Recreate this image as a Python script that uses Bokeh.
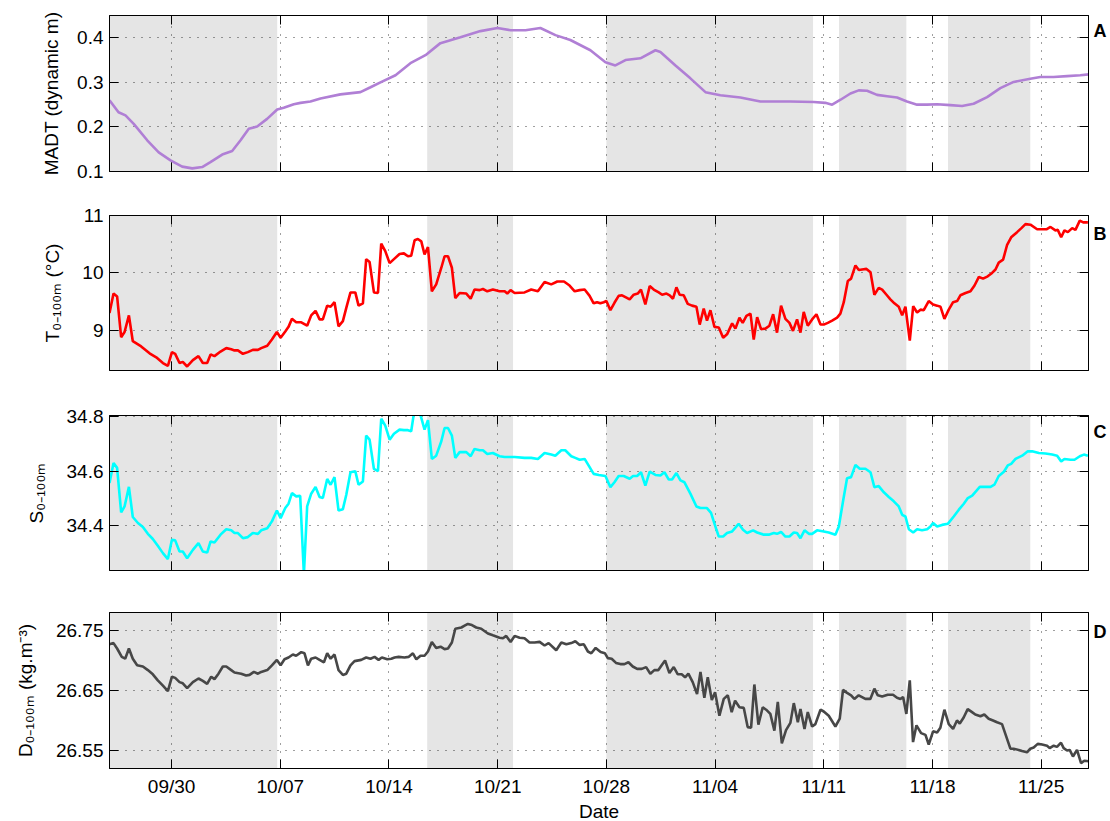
import numpy as np
import pandas as pd
from bokeh.plotting import figure
from bokeh.layouts import column
from bokeh.models import (Range1d, FixedTicker, LinearAxis, DatetimeAxis, BoxAnnotation,
                          CustomJSTickFormatter)
from bokeh.embed import file_html
from bokeh.resources import INLINE

# ---------------- data ----------------
START = pd.Timestamp("2012-09-26")
x_end_days = 63.05

tick_dates = ["2012-09-30", "2012-10-07", "2012-10-14", "2012-10-21", "2012-10-28",
              "2012-11-04", "2012-11-11", "2012-11-18", "2012-11-25"]
tick_labels = ["09/30", "10/07", "10/14", "10/21", "10/28", "11/04", "11/11", "11/18", "11/25"]

panel_letters = ["A", "B", "C", "D"]
panel_titles = ["MADT (dynamic m)", "T₀₋₁₀₀ₘ (°C)", "S₀₋₁₀₀ₘ", "D₀₋₁₀₀ₘ (kg.m⁻³)"]

# shaded periods (days since START)
band_start_days = [0.0, 20.46, 32.0, 46.98, 54.0]
band_end_days = [10.80, 25.99, 45.31, 51.32, 59.3]

# Panel A: MADT (dynamic m)
madt_days = [0.00, 0.58, 1.03, 1.56, 2.43, 3.17, 3.93, 4.68, 5.33, 5.97,
             6.50, 7.26, 7.90, 8.44, 8.97, 9.51, 10.15, 10.80, 11.22, 11.87,
             12.30, 12.94, 13.59, 14.87, 16.16, 16.81, 17.45, 18.42, 19.38, 20.35,
             21.31, 22.60, 23.89, 24.98, 25.82, 26.79, 27.75, 28.72, 29.68, 30.97,
             31.94, 32.58, 33.23, 34.19, 35.16, 35.48, 36.45, 37.41, 38.38, 39.34,
             40.63, 41.92, 43.85, 45.35, 46.10, 46.54, 47.08, 47.72, 48.25, 48.79,
             49.43, 50.08, 50.72, 51.36, 52.01, 52.65, 53.30, 54.15, 54.91, 55.65,
             56.52, 57.37, 58.23, 59.30, 59.95, 60.80, 61.67, 62.52, 63.06]
madt_vals = [0.260, 0.233, 0.226, 0.207, 0.170, 0.143, 0.125, 0.111, 0.107, 0.110,
             0.121, 0.138, 0.146, 0.170, 0.196, 0.201, 0.218, 0.239, 0.243, 0.251,
             0.254, 0.257, 0.264, 0.273, 0.278, 0.289, 0.300, 0.316, 0.343, 0.361,
             0.388, 0.401, 0.415, 0.422, 0.417, 0.417, 0.422, 0.406, 0.395, 0.372,
             0.345, 0.338, 0.350, 0.354, 0.372, 0.368, 0.338, 0.309, 0.278, 0.271,
             0.266, 0.257, 0.257, 0.256, 0.254, 0.250, 0.261, 0.275, 0.282, 0.281,
             0.272, 0.269, 0.266, 0.257, 0.250, 0.250, 0.251, 0.249, 0.247, 0.252,
             0.267, 0.287, 0.301, 0.308, 0.312, 0.312, 0.314, 0.316, 0.318]

# Panel B: temperature 0-100 m (degC)
temp_days = [0.00, 0.26, 0.49, 0.75, 0.97, 1.25, 1.50, 2.04, 2.58, 3.01,
             3.44, 3.76, 4.02, 4.23, 4.51, 4.72, 5.00, 5.37, 5.73, 6.01,
             6.29, 6.51, 6.76, 7.15, 7.52, 7.84, 8.05, 8.27, 8.59, 8.91,
             9.23, 9.56, 9.77, 10.16, 10.46, 10.78, 11.02, 11.32, 11.53, 11.75,
             12.02, 12.35, 12.73, 12.99, 13.27, 13.53, 13.74, 14.02, 14.24, 14.49,
             14.75, 15.03, 15.25, 15.52, 15.83, 16.04, 16.32, 16.53, 16.75, 17.03,
             17.29, 17.50, 17.76, 18.04, 18.32, 18.68, 18.96, 19.22, 19.43, 19.65,
             19.86, 20.08, 20.29, 20.51, 20.76, 21.04, 21.37, 21.58, 21.80, 22.05,
             22.27, 22.55, 22.98, 23.26, 23.51, 23.84, 24.05, 24.33, 24.69, 25.12,
             25.45, 25.62, 25.83, 26.09, 26.73, 27.16, 27.59, 28.02, 28.45, 28.84,
             29.27, 29.63, 29.96, 30.28, 30.60, 30.92,
             31.18, 31.40, 31.61, 31.83, 32.00, 32.26, 32.52, 32.79, 33.01, 33.29,
             33.50, 33.76, 34.02, 34.23, 34.51, 34.79, 35.05, 35.37, 35.59, 35.87,
             36.08, 36.29, 36.51, 36.72, 36.98, 37.24, 37.52, 37.80, 38.01, 38.27,
             38.48, 38.70, 38.96, 39.24, 39.52, 39.77, 40.10, 40.31, 40.57, 40.78,
             41.02, 41.28, 41.49, 41.71, 41.96, 42.24, 42.50, 42.74, 42.99, 43.25,
             43.53, 43.79, 44.02, 44.28, 44.50, 44.71, 44.97, 45.25, 45.53, 45.79,
             46.00, 46.26, 46.54, 46.86, 47.07, 47.29, 47.55, 47.76, 48.04, 48.26,
             48.47, 48.75, 49.01, 49.26, 49.54, 49.76, 50.04, 50.29, 50.55, 50.83,
             51.05, 51.26, 51.54, 51.76, 52.01, 52.23, 52.44, 52.76, 53.04, 53.30,
             53.52, 53.77, 54.05, 54.33, 54.59, 54.80, 55.13, 55.45, 55.71, 55.99,
             56.26, 56.56, 56.84, 57.06, 57.27, 57.55, 57.81, 58.07, 58.45, 58.73,
             58.99, 59.31, 59.74, 60.07, 60.34, 60.60, 60.92, 61.07, 61.29, 61.50,
             61.72, 62.00, 62.21, 62.49, 62.71, 63.01]
temp_vals = [9.30, 9.64, 9.59, 8.88, 8.97, 9.26, 8.81, 8.72, 8.60, 8.53,
             8.43, 8.38, 8.62, 8.59, 8.43, 8.45, 8.37, 8.48, 8.55, 8.43,
             8.43, 8.58, 8.55, 8.63, 8.69, 8.67, 8.65, 8.65, 8.59, 8.62,
             8.66, 8.66, 8.69, 8.73, 8.84, 8.97, 8.87, 8.98, 9.06, 9.20,
             9.14, 9.14, 9.08, 9.26, 9.34, 9.19, 9.19, 9.43, 9.41, 9.49,
             9.07, 9.16, 9.39, 9.66, 9.66, 9.43, 9.47, 10.24, 10.19, 9.66,
             9.65, 10.51, 10.38, 10.17, 10.24, 10.33, 10.34, 10.29, 10.30, 10.57,
             10.59, 10.55, 10.32, 10.45, 9.68, 9.80, 10.09, 10.29, 10.29, 10.09,
             9.56, 9.65, 9.64, 9.55, 9.71, 9.70, 9.72, 9.68, 9.71, 9.68,
             9.68, 9.64, 9.70, 9.65, 9.66, 9.71, 9.68, 9.84, 9.80, 9.85,
             9.85, 9.78, 9.68, 9.70, 9.71, 9.60,
             9.47, 9.49, 9.47, 9.49, 9.51, 9.35, 9.48, 9.60, 9.61, 9.57,
             9.54, 9.62, 9.64, 9.71, 9.45, 9.77, 9.71, 9.66, 9.62, 9.64,
             9.61, 9.55, 9.75, 9.62, 9.61, 9.46, 9.43, 9.41, 9.10, 9.38,
             9.17, 9.35, 9.06, 9.05, 8.87, 8.93, 9.12, 9.03, 9.22, 9.13,
             9.25, 9.29, 8.84, 9.23, 9.02, 9.03, 9.08, 9.28, 8.96, 9.43,
             9.20, 9.13, 8.99, 9.19, 8.96, 9.32, 9.08, 9.19, 9.28, 9.10,
             9.10, 9.13, 9.17, 9.22, 9.29, 9.49, 9.86, 9.90, 10.13, 10.05,
             10.06, 10.07, 10.01, 9.62, 9.74, 9.71, 9.62, 9.54, 9.47, 9.41,
             9.26, 9.41, 8.82, 9.42, 9.31, 9.36, 9.35, 9.51, 9.45, 9.43,
             9.41, 9.20, 9.36, 9.49, 9.51, 9.61, 9.65, 9.68, 9.78, 9.93,
             9.90, 9.94, 10.00, 10.06, 10.18, 10.23, 10.49, 10.62, 10.71, 10.78,
             10.85, 10.84, 10.76, 10.76, 10.76, 10.80, 10.74, 10.75, 10.62, 10.74,
             10.71, 10.78, 10.75, 10.91, 10.88, 10.88]

# Panel C: salinity 0-100 m
sal_days = [0.00, 0.26, 0.49, 0.75, 0.97, 1.25, 1.50, 1.83, 2.15, 2.47,
            2.79, 3.11, 3.44, 3.76, 4.02, 4.23, 4.51, 4.72, 5.00, 5.37,
            5.73, 6.01, 6.29, 6.51, 6.76, 7.15, 7.52, 7.84, 8.05, 8.27,
            8.59, 8.91, 9.23, 9.56, 9.77, 10.16, 10.46, 10.78, 11.02, 11.32,
            11.53, 11.75, 12.02, 12.28, 12.52, 12.73, 12.99, 13.27, 13.53, 13.74,
            14.02, 14.24, 14.49, 14.75, 15.03, 15.25, 15.52, 15.83, 16.04, 16.32,
            16.53, 16.75, 17.03, 17.29, 17.50, 17.76, 18.04, 18.32, 18.68, 18.96,
            19.22, 19.43, 19.65, 19.91, 20.08, 20.29, 20.51, 20.76, 21.04, 21.37,
            21.58, 21.80, 22.05, 22.27, 22.55, 22.98, 23.26, 23.51, 23.84, 24.05,
            24.33, 24.69, 25.12, 25.45, 26.09, 26.73, 27.16, 27.59, 28.02, 28.45,
            28.71, 29.10, 29.35, 29.74, 30.00, 30.28, 30.60, 30.92,
            31.18, 31.51, 31.94, 32.26, 32.52, 32.79, 33.12, 33.50, 33.72, 33.98,
            34.23, 34.51, 34.79, 35.16, 35.48, 35.74, 36.02, 36.23, 36.51, 36.77,
            37.03, 37.41, 37.80, 38.06, 38.48, 38.74, 39.09, 39.24, 39.52, 39.77,
            40.10, 40.52, 40.80, 41.06, 41.45, 41.71, 42.14, 42.46, 42.78, 42.99,
            43.25, 43.53, 43.79, 44.07, 44.28, 44.50, 44.76, 45.04, 45.25, 45.57,
            46.00, 46.32, 46.75, 46.97, 47.25, 47.50, 47.76, 48.04, 48.32, 48.68,
            49.01, 49.26, 49.54, 49.87, 50.19, 50.51, 50.83, 51.05, 51.26, 51.48,
            51.76, 52.01, 52.33, 52.66, 52.87, 53.04, 53.30, 53.62, 53.99, 54.37,
            54.70, 55.02, 55.28, 55.56, 56.05, 56.31, 56.74, 56.99, 57.27, 57.60,
            57.85, 58.07, 58.35, 58.78, 59.14, 59.42, 59.85, 60.28, 60.71, 61.03,
            61.29, 61.50, 61.89, 62.15, 62.49, 62.75, 63.01]
sal_vals = [34.556, 34.630, 34.612, 34.448, 34.470, 34.542, 34.431, 34.409, 34.394, 34.369,
            34.350, 34.325, 34.298, 34.276, 34.347, 34.345, 34.304, 34.304, 34.279, 34.310,
            34.335, 34.304, 34.300, 34.341, 34.337, 34.366, 34.386, 34.382, 34.372, 34.372,
            34.353, 34.357, 34.372, 34.369, 34.382, 34.390, 34.415, 34.455, 34.427, 34.464,
            34.480, 34.519, 34.507, 34.509, 34.220, 34.470, 34.517, 34.542, 34.505, 34.501,
            34.571, 34.550, 34.578, 34.455, 34.460, 34.513, 34.596, 34.600, 34.550, 34.562,
            34.731, 34.716, 34.608, 34.600, 34.793, 34.768, 34.716, 34.738, 34.753, 34.751,
            34.751, 34.747, 34.830, 34.830, 34.796, 34.753, 34.788, 34.645, 34.657, 34.710,
            34.759, 34.759, 34.731, 34.649, 34.670, 34.670, 34.655, 34.682, 34.677, 34.677,
            34.663, 34.667, 34.655, 34.652, 34.652, 34.649, 34.649, 34.645, 34.667, 34.661,
            34.657, 34.677, 34.677, 34.655, 34.649, 34.642, 34.645, 34.615,
            34.590, 34.586, 34.582, 34.541, 34.559, 34.582, 34.582, 34.572, 34.582, 34.582,
            34.596, 34.547, 34.598, 34.586, 34.584, 34.596, 34.569, 34.569, 34.593, 34.566,
            34.559, 34.517, 34.470, 34.464, 34.464, 34.446, 34.384, 34.359, 34.359, 34.372,
            34.378, 34.406, 34.384, 34.372, 34.382, 34.374, 34.366, 34.366, 34.372, 34.369,
            34.376, 34.359, 34.359, 34.374, 34.372, 34.353, 34.382, 34.369, 34.369, 34.382,
            34.378, 34.374, 34.366, 34.396, 34.492, 34.574, 34.578, 34.623, 34.609, 34.609,
            34.596, 34.541, 34.545, 34.522, 34.505, 34.489, 34.470, 34.439, 34.433, 34.386,
            34.374, 34.386, 34.382, 34.386, 34.396, 34.409, 34.396, 34.402, 34.406, 34.433,
            34.458, 34.480, 34.501, 34.510, 34.542, 34.542, 34.542, 34.550, 34.582, 34.598,
            34.621, 34.627, 34.645, 34.657, 34.673, 34.673, 34.667, 34.665, 34.661, 34.657,
            34.636, 34.645, 34.642, 34.642, 34.655, 34.661, 34.657]

# Panel D: density 0-100 m (kg m-3)
dens_days = [0.00, 0.26, 0.49, 0.79, 1.01, 1.25, 1.50, 1.78, 2.15, 2.47,
             2.79, 3.11, 3.44, 3.76, 4.02, 4.23, 4.51, 4.72, 5.00, 5.37,
             5.73, 6.01, 6.29, 6.55, 6.76, 7.02, 7.30, 7.52, 7.84, 8.05,
             8.48, 8.80, 9.02, 9.30, 9.56, 9.77, 10.16, 10.46, 10.78, 11.02,
             11.27, 11.53, 11.81, 12.02, 12.35, 12.56, 12.78, 12.99, 13.27, 13.53,
             13.81, 14.02, 14.24, 14.49, 14.75, 15.03, 15.25, 15.52, 15.78, 16.21,
             16.53, 16.81, 17.07, 17.33, 17.54, 17.89, 18.15, 18.36, 18.62, 19.00,
             19.26, 19.54, 19.76, 20.03, 20.29, 20.51, 20.76, 21.04, 21.32, 21.58,
             21.80, 22.05, 22.27, 22.66, 22.87, 23.08, 23.34, 23.62, 23.94, 24.37,
             24.69, 25.12, 25.34, 25.55, 25.83, 26.09, 26.41, 26.73, 27.05, 27.38,
             27.70, 28.02, 28.28, 28.77, 29.10, 29.42, 29.74, 30.00, 30.28, 30.55,
             30.81, 31.03, 31.31, 31.63,
             31.91, 32.09, 32.34, 32.62, 32.90, 33.16, 33.42, 33.70, 33.98, 34.28,
             34.56, 34.83, 35.09, 35.35, 35.56, 35.78, 36.06, 36.34, 36.60, 36.85,
             37.07, 37.28, 37.56, 37.84, 38.06, 38.31, 38.53, 38.79, 39.00, 39.28,
             39.56, 39.82, 40.07, 40.29, 40.57, 40.85, 41.10, 41.32, 41.53, 41.79,
             42.07, 42.29, 42.56, 42.82, 43.04, 43.30, 43.57, 43.85, 44.07, 44.33,
             44.50, 44.76, 44.97, 45.25, 45.46, 45.79, 46.00, 46.32, 46.75, 47.03,
             47.24, 47.50, 47.76, 47.97, 48.25, 48.68, 49.00, 49.26, 49.48, 49.76,
             50.12, 50.46, 50.72, 50.94, 51.11, 51.32, 51.54, 51.75, 51.97, 52.27,
             52.55, 52.76, 53.04, 53.30, 53.51, 53.77, 54.05, 54.33, 54.58, 54.76,
             55.01, 55.27, 55.55, 55.76, 56.09, 56.34, 56.62, 56.90, 57.16, 57.48,
             58.02, 58.23, 58.55, 58.77, 59.09, 59.30, 59.52, 59.78, 60.06, 60.38,
             60.55, 60.81, 61.02, 61.28, 61.45, 61.67, 61.84, 62.05, 62.31, 62.57,
             62.78, 63.06]
dens_vals = [26.727, 26.729, 26.720, 26.706, 26.703, 26.720, 26.703, 26.692, 26.690, 26.684,
             26.677, 26.667, 26.658, 26.649, 26.673, 26.671, 26.664, 26.662, 26.654, 26.664,
             26.670, 26.666, 26.661, 26.673, 26.669, 26.678, 26.690, 26.690, 26.684, 26.680,
             26.678, 26.675, 26.676, 26.681, 26.678, 26.681, 26.684, 26.692, 26.701, 26.692,
             26.702, 26.705, 26.710, 26.708, 26.714, 26.712, 26.692, 26.703, 26.705, 26.701,
             26.697, 26.712, 26.703, 26.710, 26.684, 26.676, 26.678, 26.692, 26.699, 26.701,
             26.705, 26.703, 26.706, 26.701, 26.705, 26.702, 26.703, 26.705, 26.706, 26.705,
             26.706, 26.712, 26.702, 26.708, 26.708, 26.715, 26.731, 26.721, 26.723, 26.719,
             26.720, 26.730, 26.753, 26.755, 26.758, 26.761, 26.759, 26.755, 26.753, 26.745,
             26.742, 26.738, 26.737, 26.741, 26.731, 26.741, 26.738, 26.737, 26.730, 26.730,
             26.731, 26.725, 26.729, 26.717, 26.730, 26.727, 26.729, 26.732, 26.726, 26.727,
             26.715, 26.712, 26.721, 26.714,
             26.712, 26.704, 26.703, 26.696, 26.694, 26.694, 26.697, 26.690, 26.686, 26.686,
             26.689, 26.678, 26.684, 26.684, 26.692, 26.700, 26.679, 26.689, 26.677, 26.677,
             26.672, 26.678, 26.664, 26.644, 26.681, 26.638, 26.672, 26.634, 26.647, 26.608,
             26.636, 26.642, 26.614, 26.633, 26.622, 26.621, 26.589, 26.588, 26.660, 26.593,
             26.622, 26.618, 26.611, 26.583, 26.631, 26.562, 26.584, 26.596, 26.629, 26.597,
             26.619, 26.586, 26.614, 26.590, 26.594, 26.618, 26.615, 26.608, 26.590, 26.603,
             26.651, 26.646, 26.642, 26.636, 26.642, 26.636, 26.636, 26.653, 26.642, 26.640,
             26.643, 26.643, 26.638, 26.636, 26.639, 26.611, 26.667, 26.564, 26.592, 26.579,
             26.576, 26.560, 26.582, 26.580, 26.588, 26.618, 26.594, 26.586, 26.600, 26.595,
             26.605, 26.619, 26.614, 26.610, 26.607, 26.610, 26.603, 26.600, 26.597, 26.594,
             26.553, 26.553, 26.551, 26.549, 26.547, 26.553, 26.555, 26.561, 26.560, 26.558,
             26.554, 26.558, 26.556, 26.563, 26.554, 26.550, 26.551, 26.540, 26.551, 26.529,
             26.533, 26.532]

# ---------------- helpers ----------------
FONT = "Liberation Sans"
FS = "19px"
EPOCH = pd.Timestamp("1970-01-01")


def to_dt(days):
    return START + pd.to_timedelta(np.asarray(days, dtype=float), unit="D")


def ms(ts):
    return (pd.Timestamp(ts) - EPOCH).total_seconds() * 1000.0


tick_ms = [ms(d) for d in tick_dates]
x_range = Range1d(START, START + pd.Timedelta(days=x_end_days))
FRAME_W = 979

label_js = "const labs = %s; return labs[index];" % str(tick_labels)


def ticks_only(ax, ticks):
    """axis that only draws inward tick marks (as minor ticks), no labels"""
    ax.ticker = FixedTicker(ticks=[], minor_ticks=ticks)
    ax.major_tick_line_color = None
    ax.major_tick_in = 0
    ax.major_tick_out = 0
    ax.minor_tick_in = 9
    ax.minor_tick_out = 0
    ax.minor_tick_line_color = "black"
    ax.minor_tick_line_width = 1
    ax.axis_line_color = "black"
    ax.major_label_standoff = 0


def make_panel(ylo, yhi, yticks, frame_h, top, bottom, show_x, letter, letter_v,
               ytitle, title_standoff):
    p = figure(x_axis_type="datetime", frame_width=FRAME_W, frame_height=frame_h,
               x_range=x_range, y_range=Range1d(ylo, yhi),
               output_backend="svg", toolbar_location=None,
               min_border_left=109, min_border_right=10,
               min_border_top=top, min_border_bottom=bottom)
    p.outline_line_color = "black"
    p.outline_line_alpha = 1.0

    # left axis with labels
    ya = p.yaxis[0]
    ya.ticker = FixedTicker(ticks=yticks)
    ya.major_tick_in = 9
    ya.major_tick_out = 0
    ya.minor_tick_line_color = None
    ya.axis_line_color = "black"
    ya.major_label_text_font = FONT
    ya.major_label_text_font_size = FS
    ya.major_label_text_color = "black"
    ya.major_label_standoff = 6
    ya.axis_label = ytitle
    ya.axis_label_text_font = FONT
    ya.axis_label_text_font_size = FS
    ya.axis_label_text_font_style = "normal"
    ya.axis_label_text_color = "black"
    ya.axis_label_standoff = title_standoff

    xa = p.xaxis[0]
    if show_x:
        xa.ticker = FixedTicker(ticks=tick_ms)
        xa.formatter = CustomJSTickFormatter(code=label_js)
        xa.major_tick_in = 9
        xa.major_tick_out = 0
        xa.minor_tick_line_color = None
        xa.axis_line_color = "black"
        xa.major_label_text_font = FONT
        xa.major_label_text_font_size = FS
        xa.major_label_text_color = "black"
        xa.major_label_standoff = 7
        xa.axis_label = "Date"
        xa.axis_label_text_font = FONT
        xa.axis_label_text_font_size = FS
        xa.axis_label_text_font_style = "normal"
        xa.axis_label_text_color = "black"
        xa.axis_label_standoff = 1
    else:
        ticks_only(xa, tick_ms)

    above = DatetimeAxis()
    ticks_only(above, tick_ms)
    p.add_layout(above, "above")

    # right axis: inward ticks at y values (minor) + panel letter (single major label)
    right = LinearAxis()
    right.ticker = FixedTicker(ticks=[letter_v], minor_ticks=yticks)
    right.formatter = CustomJSTickFormatter(code="return '%s';" % letter)
    right.major_tick_line_color = None
    right.major_tick_in = 0
    right.major_tick_out = 0
    right.minor_tick_in = 9
    right.minor_tick_out = 0
    right.minor_tick_line_color = "black"
    right.axis_line_color = "black"
    right.major_label_standoff = 5
    right.major_label_text_font = FONT
    right.major_label_text_font_size = "18px"
    right.major_label_text_font_style = "bold"
    right.major_label_text_color = "black"
    p.add_layout(right, "right")

    for g in (p.xgrid[0], p.ygrid[0]):
        g.grid_line_color = "black"
        g.grid_line_alpha = 0.75
        g.grid_line_dash = "1 7"
        g.grid_line_width = 1
    p.xgrid.ticker = FixedTicker(ticks=tick_ms)
    p.ygrid.ticker = FixedTicker(ticks=yticks)

    for b0, b1 in zip(band_start_days, band_end_days):
        p.add_layout(BoxAnnotation(left=ms(START + pd.Timedelta(days=b0)),
                                   right=ms(START + pd.Timedelta(days=b1)),
                                   fill_color="#e5e5e5", fill_alpha=1.0,
                                   line_color=None, level="image"))
    return p


# ---------------- panels ----------------
pA = make_panel(0.1, 0.45, [0.1, 0.2, 0.3, 0.4], 156, 15, 22, False,
                panel_letters[0], 0.416, panel_titles[0], 12)
pA.line(to_dt(madt_days), madt_vals, line_color="#b07fd5", line_width=2.6)

pB = make_panel(8.3, 11.0, [9, 10, 11], 155, 22, 22, False,
                panel_letters[1], 10.686, panel_titles[1], 16)
pB.line(to_dt(temp_days), temp_vals, line_color="#ff0000", line_width=2.6)

pC = make_panel(34.234, 34.805, [34.4, 34.6, 34.8], 155, 23, 21, False,
                panel_letters[2], 34.743, panel_titles[2], 17)
pC.line(to_dt(sal_days), sal_vals, line_color="#00ffff", line_width=2.6)

pD = make_panel(26.52, 26.78, [26.55, 26.65, 26.75], 156, 21, 40, True,
                panel_letters[3], 26.748, panel_titles[3], 17)
pD.line(to_dt(dens_days), dens_vals, line_color="#474747", line_width=2.6)

layout = column(pA, pB, pC, pD, spacing=0)
open("out.html", "w").write(file_html(layout, INLINE, title="MADT T S D"))
